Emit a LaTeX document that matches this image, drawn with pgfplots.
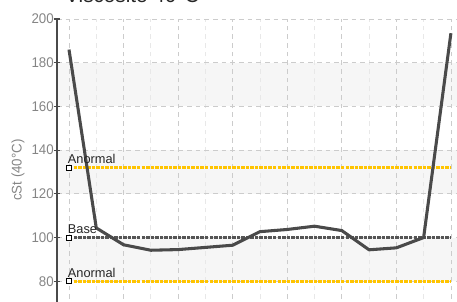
\documentclass[border=0pt]{standalone}
\usepackage{pgfplots}
\pgfplotsset{compat=1.18}
\usepackage{fontspec}
\setmainfont{Liberation Sans}
\newfontfamily\narrowfont{Liberation Sans}[FakeStretch=0.95]
\definecolor{ylw}{HTML}{FFC400}
\definecolor{dline}{HTML}{4A4A4A}
\definecolor{tickc}{HTML}{858585}
\definecolor{band}{HTML}{F6F6F6}
\definecolor{basec}{HTML}{555555}
\begin{document}
\begin{tikzpicture}
\begin{axis}[
  set layers,
  scale only axis,
  width=309.75pt, height=229.5pt,
  at={(42.75pt,212.25pt)}, anchor=north west,
  xmin=-0.44, xmax=14.70,
  ymin=60, ymax=200,
  axis x line*=bottom, axis y line*=left,
  axis line style={draw=dline, line width=0.9pt},
  xtick={0,2,...,14}, minor xtick={1,3,...,13}, xticklabels={},
  ytick={80,100,...,200},
  grid=both,
  major grid style={draw=gray!40, dash pattern=on 3.5pt off 3pt, line width=0.6pt},
  minor grid style={draw=gray!18, dash pattern=on 3.5pt off 3pt, line width=0.6pt},
  tick align=center,
  major tick length=4.5pt,
  minor tick length=0pt,
  tick style={draw=dline, line width=0.8pt},
  yticklabel style={font=\narrowfont\fontsize{10.5}{12}\selectfont, text=tickc, anchor=east, inner sep=0pt},
  ytick pos=left,
  tick label style={/pgf/number format/assume math mode=true},
  clip=false,
]
\begin{pgfonlayer}{axis background}
\fill[band] (axis cs:-0.44,160) rectangle (axis cs:14.70,180);
\fill[band] (axis cs:-0.44,120) rectangle (axis cs:14.70,140);
\fill[band] (axis cs:-0.44,80) rectangle (axis cs:14.70,100);
\end{pgfonlayer}
% reference lines
\addplot[ylw, line width=1.9pt, dash pattern=on 2.6pt off 0.8pt] coordinates {(0,132) (14,132)};
\addplot[basec, line width=1.7pt, dash pattern=on 2.6pt off 0.8pt] coordinates {(0,100) (14,100)};
\addplot[ylw, line width=1.9pt, dash pattern=on 2.6pt off 0.8pt] coordinates {(0,80) (14,80)};
% main series
\addplot[dline, line width=2.3pt, line join=round] coordinates {
(0,186) (1,104.4) (2,96.7) (3,94.2) (4,94.5) (5,95.5) (6,96.5) (7,102.7)
(8,103.7) (9,105.2) (10,103.2) (11,94.4) (12,95.3) (13,100) (14,193.5)};
% markers
\addplot[only marks, mark=square*, mark size=1.9pt, mark options={fill=white, draw=black, line width=0.6pt}] coordinates {(0,132) (0,100) (0,80)};
\node[anchor=south west, inner sep=0pt, font=\fontsize{9.6}{11}\selectfont, text=black!85] at (axis cs:-0.05,133.5) {Anormal};
\node[anchor=south west, inner sep=0pt, font=\fontsize{9.6}{11}\selectfont, text=black!85] at (axis cs:-0.05,101.5) {Base};
\node[anchor=south west, inner sep=0pt, font=\fontsize{9.6}{11}\selectfont, text=black!85] at (axis cs:-0.05,81.5) {Anormal};
\end{axis}
\node[anchor=base west, inner sep=0pt, font=\fontsize{15.5}{18}\selectfont, text=black!85] at (48.75pt,224.5pt) {Viscosité 40°C};
\node[rotate=90, inner sep=0pt, font=\narrowfont\fontsize{10.5}{12}\selectfont, text=tickc] at (13.5pt,99pt) {cSt (40°C)};
\pgfresetboundingbox
\useasboundingbox (0,0) rectangle (342.75pt,226.5pt);
\end{tikzpicture}
\end{document}
